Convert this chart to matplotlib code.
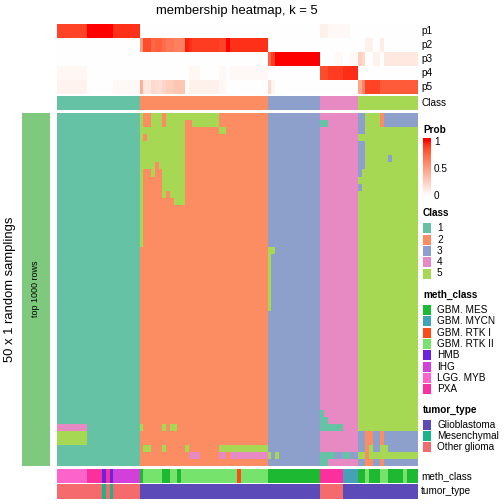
import numpy as np
import matplotlib
matplotlib.use('Agg')
import matplotlib.pyplot as plt
from matplotlib.colors import ListedColormap
from matplotlib.patches import Rectangle

plt.rcParams['font.family'] = ['Liberation Sans', 'DejaVu Sans']

W = H = 504

# ---------------- data ----------------
class_labels = ['1', '2', '3', '4', '5']
class_colors = ['#66C2A5', '#FC8D62', '#8DA0CB', '#E78AC3', '#A6D854']

sample_class = [1] * 22 + [2] * 34 + [3] * 14 + [4] * 10 + [5] * 16

p1 = [0.88] * 8 + [1.0] * 7 + [0.93] * 7 + [0.0] * 34 + [0.0] * 14 + [0.08] * 2 + [0.03] * 6 + [0.0] * 2 + [0.0] * 16
p2 = ([0.0] * 22 + [0.5, 0.85, 0.85, 0.75, 0.78, 0.78, 0.72, 0.68, 0.68, 0.64, 0.64, 0.64, 0.97, 0.93]
      + [0.9] * 7 + [0.88, 0.88, 1.0] + [0.93] * 10 + [0.0] * 14 + [0.0] * 10
      + [0.0, 0.0, 0.08, 0.08, 0.0, 0.0, 0.1] + [0.0] * 9)
p3 = ([0.0] * 22 + [0.0] * 34 + [0.75, 0.9] + [1.0] * 12 + [0.0] * 4 + [0.03, 0.03, 0.0, 0.0, 0.03, 0.03]
      + [0.25, 0.2, 0.0, 0.0, 0.07, 0.07, 0.0] + [0.12] * 9)
p4 = ([0.04] * 8 + [0.0] * 14 + [0.0] * 13 + [0.04] * 3 + [0.0] * 5 + [0.03] * 2 + [0.0] + [0.03] * 10
      + [0.0] * 14 + [0.85] * 2 + [0.9] * 4 + [0.94] * 4 + [0.0] * 16)
p5 = ([0.06] * 8 + [0.0] * 7 + [0.03] * 7
      + [0.42, 0.12, 0.12, 0.2, 0.17, 0.17, 0.22, 0.26, 0.26, 0.3, 0.3, 0.3, 0.02] + [0.08] * 8 + [0.04] * 2 + [0.0] * 11
      + [0.2, 0.05] + [0.0] * 12 + [0.0] * 10
      + [0.45, 0.62, 0.88, 0.88, 0.88, 0.88, 0.8] + [0.8] * 9)
prob_names = ['p1', 'p2', 'p3', 'p4', 'p5']

# 50 random samplings x 96 samples; blocks: class1 | class2 | class3 | class4 | class5
membership_rows = [
    "1111111111111111111111 5225552555555555555552222222222222 33333333333333 4444444444 3355552333333333",
    "1111111111111111111111 5225552555552255555552222222222222 33333333333333 1144444444 3355552333333333",
    "1111111111111111111111 5555555555552222222225522222222222 33333333333333 4444444444 3355555555555555",
    "1111111111111111111111 5255555555552222222222222222222222 33333333333333 4444444444 5555555555555555",
    "1111111111111111111111 5555555555552222222222222222222222 33333333333333 4444444444 3355555555555555",
    "1111111111111111111111 5555555555552222222222222222222222 33333333333333 4444444444 3355555555555555",
    "1111111111111111111111 5555555555552222222222222222222222 33333333333333 4444444444 3355555535555555",
    "1111111111111111111111 5555255555552222222222222222222222 33333333333333 4444444444 3355555555555555",
    "1111111111111111111111 5225225555552222222222222222222222 33333333333333 4444444444 3555555555555555",
    "1111111111111111111111 5222225555552222222222222222222222 33333333333333 4444444444 5555555555555555",
    "1111111111111111111111 5222225555552222222222222222222222 33333333333333 4444444444 3555555555555555",
    "1111111111111111111111 5222225255552222222222222222222222 33333333333333 4444444444 5555555555555555",
    "1111111111111111111111 5222222225552222222222222222222222 33333333333333 4444444444 5555555555555555",
    "1111111111111111111111 5222222222222222222222222222222222 33333333333333 4444444444 5555555555555555",
    "1111111111111111111111 5222222222222222222222222222222222 33333333333333 4444444444 5555555555555555",
    "1111111111111111111111 5222222222222222222222222222222222 33333333333333 4444444444 5555555555555555",
    "1111111111111111111111 5222222222222222222222222222222222 33333333333333 4444444444 5555555555555555",
    "1111111111111111111111 5222222222222222222222222222222222 33333333333333 4444444444 5555555555555555",
    "1111111111111111111111 5222222222222222222222222222222222 33333333333333 4444444444 5555555555555555",
    "1111111111111111111111 2222222222222222222222222222222222 55333333333333 4444444444 5555555555555555",
    "1111111111111111111111 2222222222222222222222222222222222 53333333333333 4444444444 5555555555555555",
    "1111111111111111111111 2222222222222222222222222222222222 53333333333333 4444444444 5555555555555555",
    "1111111111111111111111 2222222222222222222222222222222222 53333333333333 4444444444 5555555555555555",
    "1111111111111111111111 2222222222222222222222222222222222 53333333333333 4444444444 5555555555555555",
    "1111111111111111111111 2222222222222222222222222222222222 53333333333333 4444444444 5555555555555555",
    "1111111111111111111111 2222222222222222222222222222222222 53333333333333 4444444444 5555555555555555",
    "1111111111111111111111 2222222222222222222222222222222222 53333333333333 4444444444 5555555555555555",
    "1111111111111111111111 2222222222222222222222222222222222 53333333333333 4444444444 5555555555555555",
    "1111111111111111111111 2222222222222222222222222222222222 33333333333333 4444444444 5555555555555555",
    "1111111111111111111111 2222222222222222222222222222222222 33333333333333 4444444444 5555555555555555",
    "1111111111111111111111 2222222222222222222222222222222222 33333333333333 4444444444 5555555555555555",
    "1111111111111111111111 2222222222222222222222222222222222 33333333333333 4444444444 5555555555555555",
    "1111111111111111111111 2222222222222222222222222222222222 33333333333333 4444444444 5555555555555555",
    "1111111111111111111111 2222222222222222222222222222222222 33333333333333 4444444444 5555555555555555",
    "1111111111111111111111 2222222222222222222222222222222222 33333333333333 4444444444 5555555555555555",
    "1111111111111111111111 2222222222222222222222222222222222 33333333333333 4444444444 5555555555555555",
    "1111111111111111111111 2222222222222222222222222222222222 33333333333333 4444444444 5555555555555555",
    "1111111111111111111111 2222222222222222222222222222222222 33333333333333 4444444444 5555555555555555",
    "1111111111111111111111 2222222222222222222222222222222222 33333333333333 4444444444 5555555555555555",
    "1111111111111111111111 2222222222222222222222222222222222 33333333333333 4444444444 5555555555555555",
    "1111111111111111111111 2222222222222222222222222222222222 33333333333333 4444444444 5555555555555555",
    "1111111111111111111111 2222222222222222222222222222222222 33333333333333 4444444444 5555555555555555",
    "1111111111111111111111 2222222222222222222222222222222222 33333333333333 1444444444 5555555555555555",
    "1111111111111111111111 2222222222222222222222222222222222 33333333333333 1144444444 5555555555555555",
    "4444444411111111111111 5222225255222222222222222222222222 33333333333333 1111114444 5555555555555555",
    "5555555511111111111111 2222222222222222222222222222222222 33333333333333 4444444444 3322332333333333",
    "5555555511111111111111 2222222222222222222222222222222222 33333333333333 4444444444 3322332333333333",
    "1111111111111111111111 2552225222225222222225555555555555 33333333333333 4444444444 3325335533333333",
    "1111111111111111111111 2222222222222444222224424444444444 53533333333333 1111331133 5525555555555555",
    "1111111111111111111111 2222222222222222222222222222222222 33333333333333 1144444444 3322332333333333",
]

meth_runs = [("LGG. MYB", 8), ("PXA", 4), ("HMB", 1), ("PXA", 1), ("HMB", 1), ("IHG", 7),
             ("GBM. MES", 1), ("GBM. RTK II", 5), ("GBM. MES", 2), ("GBM. RTK II", 2), ("GBM. MES", 1),
             ("GBM. RTK II", 15), ("GBM. RTK I", 1), ("GBM. RTK II", 7), ("GBM. MES", 14),
             ("PXA", 6), ("GBM. MYCN", 4), ("GBM. MES", 2), ("GBM. RTK II", 1), ("GBM. MES", 3),
             ("GBM. RTK II", 2), ("GBM. MES", 4), ("GBM. RTK II", 1), ("GBM. MES", 3)]
meth_levels = ["GBM. MES", "GBM. MYCN", "GBM. RTK I", "GBM. RTK II", "HMB", "IHG", "LGG. MYB", "PXA"]
meth_colors = ["#1DB933", "#45A1B8", "#FF4A18", "#75E36C", "#6A23E0", "#D33FD9", "#FC63CB", "#FB2F9E"]

tumor_runs = [("Other glioma", 12), ("Mesenchymal", 1), ("Other glioma", 1), ("Mesenchymal", 1),
              ("Other glioma", 7), ("Glioblastoma", 48), ("Other glioma", 6), ("Glioblastoma", 20)]
tumor_levels = ["Glioblastoma", "Mesenchymal", "Other glioma"]
tumor_colors = ["#5C4AB8", "#1AB586", "#F46A6D"]

title = "membership heatmap, k = 5"


# ---------------- helpers ----------------
def lab_ramp(c0, c1, n=256):
    M = np.array([[0.4124, 0.3576, 0.1805], [0.2126, 0.7152, 0.0722], [0.0193, 0.1192, 0.9505]])
    Minv = np.linalg.inv(M)
    wp = np.array([0.95047, 1.0, 1.08883])
    d = 6 / 29

    def to_lab(rgb):
        c = np.array(rgb, float)
        lin = np.where(c <= 0.04045, c / 12.92, ((c + 0.055) / 1.055) ** 2.4)
        xyz = M @ lin / wp
        f = np.where(xyz > d ** 3, np.cbrt(xyz), xyz / (3 * d * d) + 4 / 29)
        return np.array([116 * f[1] - 16, 500 * (f[0] - f[1]), 200 * (f[1] - f[2])])

    def to_rgb(lab):
        fy = (lab[0] + 16) / 116
        fx = fy + lab[1] / 500
        fz = fy - lab[2] / 200
        f = np.array([fx, fy, fz])
        xyz = np.where(f > d, f ** 3, 3 * d * d * (f - 4 / 29)) * wp
        lin = Minv @ xyz
        lin = np.clip(lin, 0, 1)
        s = np.where(lin <= 0.0031308, 12.92 * lin, 1.055 * lin ** (1 / 2.4) - 0.055)
        return np.clip(s, 0, 1)

    l0, l1 = to_lab(c0), to_lab(c1)
    return ListedColormap([to_rgb(l0 + (l1 - l0) * t) for t in np.linspace(0, 1, n)])


prob_cmap = lab_ramp((1, 1, 1), (1, 0, 0))


def expand(runs):
    out = []
    for name, n in runs:
        out += [name] * n
    return out


def px_axes(x0, y0, x1, y1):
    ax = fig.add_axes([x0 / W, 1 - y1 / H, (x1 - x0) / W, (y1 - y0) / H])
    ax.set_axis_off()
    return ax


# ---------------- figure ----------------
fig = plt.figure(figsize=(W / 72, H / 72), dpi=72)

X0, X1 = 56.7, 416.7

# probability rows
ax_p = px_axes(X0, 24, X1, 94)
ax_p.imshow(np.array([p1, p2, p3, p4, p5]), cmap=prob_cmap, vmin=0, vmax=1,
            aspect='auto', interpolation='nearest')

# class row
cmap_cls = ListedColormap(class_colors)
ax_c = px_axes(X0, 96, X1, 110)
ax_c.imshow(np.array([sample_class]) - 1, cmap=cmap_cls, vmin=-0.5, vmax=4.5,
            aspect='auto', interpolation='nearest')

# main membership matrix
mat = np.array([[int(ch) for ch in r.replace(' ', '')] for r in membership_rows])
ax_m = px_axes(X0, 113, X1, 465.7)
ax_m.imshow(mat - 1, cmap=cmap_cls, vmin=-0.5, vmax=4.5, aspect='auto', interpolation='nearest')

# meth_class annotation
meth = expand(meth_runs)
ax_mc = px_axes(X0, 469, X1, 483)
ax_mc.imshow(np.array([[meth_levels.index(m) for m in meth]]), cmap=ListedColormap(meth_colors),
             vmin=-0.5, vmax=len(meth_levels) - 0.5, aspect='auto', interpolation='nearest')

# tumor_type annotation
tumor = expand(tumor_runs)
ax_tt = px_axes(X0, 484, X1, 499)
ax_tt.imshow(np.array([[tumor_levels.index(t) for t in tumor]]), cmap=ListedColormap(tumor_colors),
             vmin=-0.5, vmax=len(tumor_levels) - 0.5, aspect='auto', interpolation='nearest')

# overlay for text and legends (pixel coordinates)
ov = fig.add_axes([0, 0, 1, 1])
ov.set_xlim(0, W)
ov.set_ylim(H, 0)
ov.set_axis_off()

ov.text(236.7, 11, title, ha='center', va='center', fontsize=13)

for i, nm in enumerate(prob_names):
    ov.text(421, 31 + 14 * i, nm, ha='left', va='center', fontsize=10)
ov.text(421, 103, "Class", ha='left', va='center', fontsize=10)
ov.text(421, 476, "meth_class", ha='left', va='center', fontsize=10)
ov.text(421, 491.5, "tumor_type", ha='left', va='center', fontsize=10)

# left split bar
ov.add_patch(Rectangle((22, 113), 28, 352.7, facecolor='#7FC97F', edgecolor='none'))
ov.text(36, 289, "top 1000 rows", rotation=90, ha='center', va='center', fontsize=9)
ov.text(10, 289, "50 x 1 random samplings", rotation=90, ha='center', va='center', fontsize=13)

# Prob legend
LX = 423
ov.text(LX, 130, "Prob", ha='left', va='center', fontsize=10, fontweight='bold')
ax_cb = px_axes(LX, 138, LX + 8, 196)
yy = np.linspace(138, 196, 200)
vals = np.clip((196 - yy) / (196 - 141.7), 0, 1)
ax_cb.imshow(vals[:, None], cmap=prob_cmap, vmin=0, vmax=1, aspect='auto', interpolation='bilinear')
for v, lab in [(1, "1"), (0.5, "0.5"), (0, "0")]:
    y = 196 - v * (196 - 141.7)
    if v > 0:
        ov.plot([LX, LX + 1.5], [y, y], color='white', lw=0.8)
        ov.plot([LX + 6.5, LX + 8], [y, y], color='white', lw=0.8)
    ov.text(LX + 11, y, lab, ha='left', va='center', fontsize=10)


def cat_legend(ttl, y_title, y_first, labels, colors, step=11.3):
    ov.text(LX, y_title, ttl, ha='left', va='center', fontsize=10, fontweight='bold')
    for k, (lab, col) in enumerate(zip(labels, colors)):
        yc = y_first + step * k
        ov.add_patch(Rectangle((LX, yc - 5), 8, 10, facecolor=col, edgecolor='none'))
        ov.text(LX + 14, yc, lab, ha='left', va='center', fontsize=10)


cat_legend("Class", 213, 228.3, class_labels, class_colors)
cat_legend("meth_class", 295, 310, meth_levels, meth_colors)
cat_legend("tumor_type", 410, 424.7, tumor_levels, tumor_colors)

fig.savefig("out.png", dpi=72)
